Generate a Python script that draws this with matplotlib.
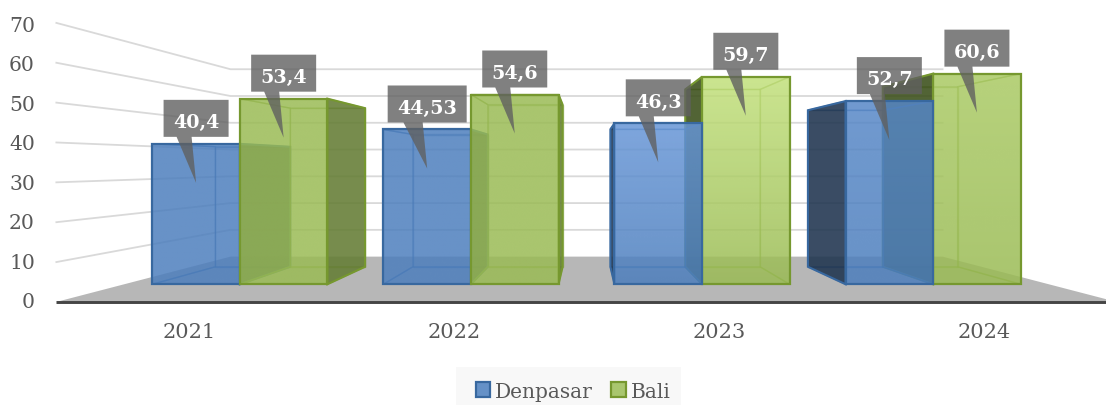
import numpy as np
import matplotlib
matplotlib.use("Agg")
import matplotlib.pyplot as plt
from matplotlib.colors import to_rgb
from matplotlib.patches import Polygon, Rectangle

# data
years = ["2021", "2022", "2023", "2024"]
denpasar = [40.4, 44.53, 46.3, 52.7]
bali = [53.4, 54.6, 59.7, 60.6]
ticks = [0, 10, 20, 30, 40, 50, 60, 70]

# perspective of the fake 3d box (pixels)
xv, yv, k = 586.5, 164.0, 34.6
s_axis, s_front, s_back, s_wall = 3.986, 3.475, 2.97, 2.677
half_w = 133.0
cat_w = 2 * half_w / len(years)
bar_w = 25.2
glow = [0.0, 0.0, 1.0, 0.4]

blue = dict(base=(76, 126, 189), top=(104, 151, 216), edge="#38689F",
            out_left=(30, 50, 75), out_right=(30, 50, 75))
green = dict(base=(154, 187, 84), top=(196, 226, 125), edge="#76982F",
             out_left=(56, 75, 24), out_right=(99, 123, 52))
FONT = "DejaVu Serif"


def pt(u, v, s):
    return (xv + u * s, yv + k * s - s * v)


def rgba(c, a):
    return (c[0] / 255, c[1] / 255, c[2] / 255, a)


fig = plt.figure(figsize=(11.06, 4.05), dpi=100)
ax = fig.add_axes([0, 0, 1, 1])
z = [2]


def face(points, fc, ec, lw=1.0):
    z[0] += 1
    p = Polygon(points, closed=True, facecolor=fc, edgecolor=ec, linewidth=lw,
                joinstyle="miter", zorder=z[0])
    ax.add_patch(p)
    return p


def front_face(u0, u1, v, c, lift):
    # front of a bar, lighter at the top for the middle groups
    pts = [pt(u0, 0, s_front), pt(u1, 0, s_front), pt(u1, v, s_front), pt(u0, v, s_front)]
    top = np.array(c["base"]) + lift * (np.array(c["top"]) - np.array(c["base"]))
    grad = np.linspace(0, 1, 60)[:, None]
    img = np.zeros((60, 1, 4))
    for j in range(3):
        img[:, :, j] = (top[j] + (c["base"][j] - top[j]) * grad) / 255
    img[:, :, 3] = 0.8
    z[0] += 1
    im = ax.imshow(img, extent=(pts[0][0], pts[1][0], pts[0][1], pts[2][1]),
                   aspect="auto", zorder=z[0], interpolation="bilinear")
    im.set_clip_path(Polygon(pts, closed=True, transform=ax.transData))
    face(pts, "none", c["edge"], 1.6)


def bar3d(u0, u1, v, c, lift):
    soft = to_rgb(c["edge"]) + (0.5,)
    thin = rgba(c["base"], 0.22)
    face([pt(u0, 0, s_back), pt(u1, 0, s_back), pt(u1, v, s_back), pt(u0, v, s_back)], thin, soft)
    face([pt(u0, 0, s_back), pt(u1, 0, s_back), pt(u1, 0, s_front), pt(u0, 0, s_front)], thin, soft)
    face([pt(u0, v, s_back), pt(u1, v, s_back), pt(u1, v, s_front), pt(u0, v, s_front)], thin, soft)
    left = [pt(u0, 0, s_back), pt(u0, v, s_back), pt(u0, v, s_front), pt(u0, 0, s_front)]
    right = [pt(u1, 0, s_back), pt(u1, v, s_back), pt(u1, v, s_front), pt(u1, 0, s_front)]
    if u1 > 0:
        face(right, thin, soft)
        face(left, rgba(c["out_left"], 0.85), c["edge"], 1.5)
    else:
        face(left, thin, soft)
        face(right, rgba(c["out_right"], 0.85), c["edge"], 1.5)
    front_face(u0, u1, v, c, lift)


# floor
face([pt(-half_w, 0, s_axis), pt(half_w, 0, s_axis), pt(half_w, 0, s_wall), pt(-half_w, 0, s_wall)],
     "#B7B7B7", "none", 0)

# gridlines on the left wall and back wall
for t in ticks[1:]:
    a = pt(-half_w, t, s_axis)
    b = pt(-half_w, t, s_wall)
    c_ = pt(half_w, t, s_wall)
    ax.plot([a[0], b[0], c_[0]], [a[1], b[1], c_[1]], color="#D9D9D9", lw=1.3, zorder=2)

# axis line
a = pt(-half_w, 0, s_axis)
ax.plot([a[0], 1106], [a[1], a[1]], color="#454545", lw=2.1, zorder=200, solid_capstyle="butt")

# bars
for i in range(len(years)):
    u0 = -half_w + i * cat_w + (cat_w - 2 * bar_w) / 2
    if u0 + bar_w < 0:
        bar3d(u0, u0 + bar_w, denpasar[i], blue, glow[i])
        bar3d(u0 + bar_w, u0 + 2 * bar_w, bali[i], green, glow[i])
    else:
        bar3d(u0 + bar_w, u0 + 2 * bar_w, bali[i], green, glow[i])
        bar3d(u0, u0 + bar_w, denpasar[i], blue, glow[i])

# callouts
for i in range(len(years)):
    u0 = -half_w + i * cat_w + (cat_w - 2 * bar_w) / 2
    for j, vals in enumerate([denpasar, bali]):
        v = vals[i]
        label = str(v).replace(".", ",")
        tx, top = pt(u0 + (j + 0.5) * bar_w, v, s_front)
        ty = top + 39
        w = 79 if len(label) > 4 else 65
        by = ty - 46
        poly = [(tx - w / 2, by - 37), (tx + w / 2, by - 37), (tx + w / 2, by),
                (tx - 4.5, by), (tx, ty), (tx - 0.3 * w, by), (tx - w / 2, by)]
        ax.add_patch(Polygon(poly, closed=True, facecolor=(96 / 255, 96 / 255, 96 / 255, 0.8),
                             edgecolor="none", zorder=300))
        ax.text(tx, by - 8.7, label, color="white", fontsize=13.8, fontweight="bold", family=FONT,
                ha="center", va="baseline", zorder=301)

# tick labels
for t in ticks:
    ax.text(35, 303 - 3.957 * t, str(t), color="#595959", fontsize=14.6, family=FONT,
            ha="right", va="center")
for i, y in enumerate(years):
    x = pt(-half_w + (i + 0.5) * cat_w, 0, s_axis)[0]
    ax.text(x, 333, y, color="#595959", fontsize=15, family=FONT, ha="center", va="center")

# legend
ax.add_patch(Rectangle((455.7, 367), 225.3, 38, facecolor="#F8F8F8", edgecolor="none", zorder=1))
ax.add_patch(Rectangle((475.5, 382), 14.5, 15, facecolor="#6591C7", edgecolor="#38689F", lw=1.6, zorder=2))
ax.add_patch(Rectangle((611, 382), 14.5, 15, facecolor="#A9C66E", edgecolor="#76982F", lw=1.6, zorder=2))
ax.text(494.5, 397.5, "Denpasar", color="#595959", fontsize=14.5, family=FONT, ha="left", va="baseline")
ax.text(630.5, 397.5, "Bali", color="#595959", fontsize=14.5, family=FONT, ha="left", va="baseline")

ax.set_xlim(0, 1106)
ax.set_ylim(405, 0)
ax.axis("off")
fig.savefig("out.png", dpi=100, facecolor="white")
